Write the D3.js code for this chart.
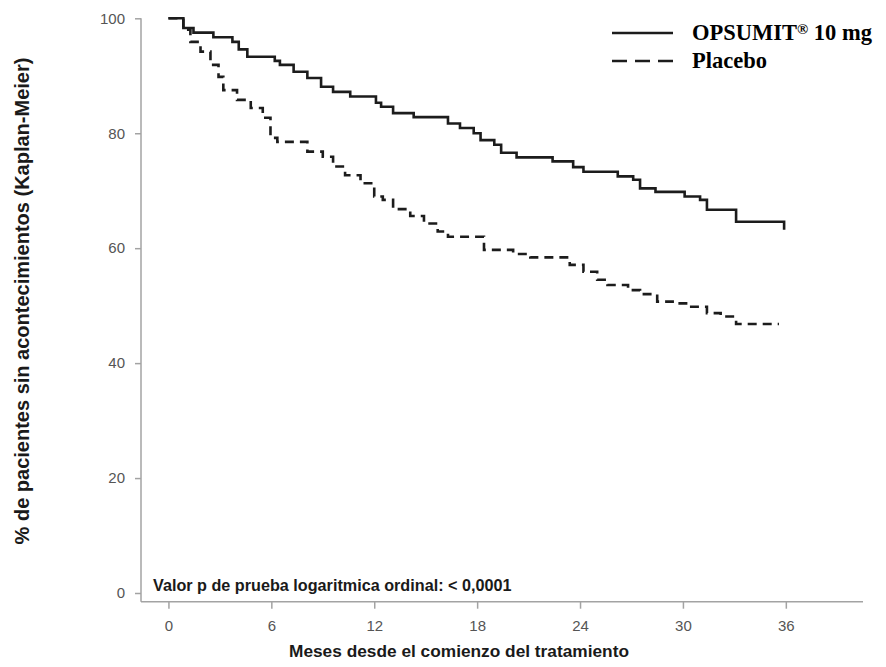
<!DOCTYPE html>
<html>
<head>
<meta charset="utf-8">
<script src="https://cdn.jsdelivr.net/npm/d3@7"></script>
<style>
  body { margin: 0; background: #fff; }
  .tick text { font-family: "Liberation Sans", Arial, sans-serif; fill: #555; }
</style>
</head>
<body>
<div id="chart"></div>
<script>
// Kaplan-Meier knots: [month, % event-free]
var opsumitTimes = [0, 0.87, 1.46, 2.62, 3.73, 4.1, 4.6, 6.2, 6.5, 7.3, 8.1, 8.9, 9.6, 10.6, 12.1, 12.4, 13.1, 14.3, 16.3, 17.0, 17.8, 18.2, 19.0, 19.4, 20.3, 22.4, 23.6, 24.2, 26.2, 27.1, 27.5, 28.4, 30.1, 31.0, 31.4, 33.1, 35.9, 35.9];
var opsumitValues = [100, 98.3, 97.5, 96.7, 95.9, 94.6, 93.3, 92.6, 91.9, 90.7, 89.6, 88.1, 87.2, 86.4, 85.3, 84.6, 83.5, 82.8, 81.7, 80.9, 80.0, 78.8, 78.0, 76.6, 75.8, 75.1, 74.1, 73.3, 72.5, 71.9, 70.4, 69.8, 69.0, 68.4, 66.7, 64.6, 64.6, 63.2];

var placeboTimes = [0, 0.87, 1.28, 1.87, 2.45, 2.92, 3.2, 4.0, 4.8, 5.5, 5.95, 6.35, 8.1, 9.0, 9.6, 10.3, 11.2, 12.0, 12.5, 13.1, 14.1, 14.9, 15.7, 16.3, 18.4, 20.1, 21.1, 23.4, 24.2, 25.0, 25.6, 26.8, 27.5, 28.5, 29.4, 30.4, 31.4, 32.2, 33.1, 35.6];
var placeboValues = [100, 98.0, 95.9, 94.2, 91.9, 89.8, 87.5, 85.8, 84.4, 82.7, 79.2, 78.5, 76.8, 75.9, 74.2, 72.7, 71.3, 69.0, 68.4, 66.8, 65.6, 64.3, 62.9, 62.0, 59.7, 59.0, 58.4, 57.1, 55.9, 54.5, 53.6, 52.7, 52.0, 50.7, 50.4, 49.8, 48.7, 48.1, 46.8, 46.8];

var xTicks = [0, 6, 12, 18, 24, 30, 36];
var yTicks = [0, 20, 40, 60, 80, 100];
var seriesNames = ["OPSUMIT", "Placebo"];

var width = 886, height = 667;
var plot = {left: 141, right: 863, top: 18.3, bottom: 593, axisY: 601.7};

var svg = d3.select("#chart").append("svg")
  .attr("width", width)
  .attr("height", height);

var x = d3.scaleLinear().domain([-1.6, 40.5]).range([plot.left, plot.right]);
var y = d3.scaleLinear().domain([0, 100]).range([plot.bottom, plot.top]);

var axisColor = "#a3a3a3";

// X axis
var xAxis = d3.axisBottom(x).tickValues(xTicks).tickSize(7).tickPadding(12).tickSizeOuter(0);
var gx = svg.append("g")
  .attr("transform", "translate(0," + plot.axisY + ")")
  .call(xAxis);
gx.select(".domain").remove();
gx.selectAll(".tick line").attr("stroke", axisColor).attr("stroke-width", 1.5);
gx.selectAll(".tick text").style("font-size", "15px");
gx.append("line")
  .attr("x1", x.range()[0]).attr("x2", x.range()[1])
  .attr("stroke", axisColor).attr("stroke-width", 1.5);

// Y axis
var yAxis = d3.axisLeft(y).tickValues(yTicks).tickSize(6).tickPadding(10).tickSizeOuter(0);
var gy = svg.append("g")
  .attr("transform", "translate(" + plot.left + ",0)")
  .call(yAxis);
gy.select(".domain").remove();
gy.selectAll(".tick line").attr("stroke", axisColor).attr("stroke-width", 1.5);
gy.selectAll(".tick text").style("font-size", "15px");
gy.append("line")
  .attr("y1", y.range()[1]).attr("y2", plot.axisY)
  .attr("stroke", axisColor).attr("stroke-width", 1.5);

// curves
var line = d3.line()
  .x(d => x(d[0]))
  .y(d => y(d[1]))
  .curve(d3.curveStepAfter);

var opsumit = d3.zip(opsumitTimes, opsumitValues);
var placebo = d3.zip(placeboTimes, placeboValues);

svg.append("path")
  .datum(placebo)
  .attr("d", line)
  .attr("fill", "none")
  .attr("stroke", "#1c1c1c")
  .attr("stroke-width", 2.6)
  .attr("stroke-dasharray", "9,6");

svg.append("path")
  .datum(opsumit)
  .attr("d", line)
  .attr("fill", "none")
  .attr("stroke", "#1c1c1c")
  .attr("stroke-width", 2.6);

// legend
var legend = svg.append("g").attr("transform", "translate(612,33)");
legend.append("line").attr("x1", 0).attr("x2", 61).attr("y1", 0).attr("y2", 0)
  .attr("stroke", "#1c1c1c").attr("stroke-width", 2.6);
legend.append("line").attr("x1", 0).attr("x2", 61).attr("y1", 28).attr("y2", 28)
  .attr("stroke", "#1c1c1c").attr("stroke-width", 2.6).attr("stroke-dasharray", "15,8");
var lt = legend.append("text")
  .attr("x", 80).attr("y", 7)
  .style("font-family", "'Liberation Serif', 'Times New Roman', serif")
  .style("font-weight", "bold").style("font-size", "22.5px");
lt.append("tspan").text(seriesNames[0]);
lt.append("tspan").attr("dy", -6).style("font-size", "15px").text("®");
lt.append("tspan").attr("dy", 6).text(" 10 mg");
legend.append("text")
  .attr("x", 80).attr("y", 35)
  .style("font-family", "'Liberation Serif', 'Times New Roman', serif")
  .style("font-weight", "bold").style("font-size", "22.5px")
  .text(seriesNames[1]);

// p-value note
svg.append("text")
  .attr("x", 153).attr("y", 590.5)
  .style("font-family", "'Liberation Sans', Arial, sans-serif")
  .style("font-weight", "bold").style("font-size", "16.2px")
  .attr("fill", "#1a1a1a")
  .text("Valor p de prueba logaritmica ordinal: < 0,0001");

// axis titles
svg.append("text")
  .attr("x", 459).attr("y", 657)
  .attr("text-anchor", "middle")
  .style("font-family", "'Liberation Sans', Arial, sans-serif")
  .style("font-weight", "bold").style("font-size", "17.3px")
  .attr("fill", "#1a1a1a")
  .text("Meses desde el comienzo del tratamiento");

svg.append("text")
  .attr("transform", "translate(29,301) rotate(-90)")
  .attr("text-anchor", "middle")
  .style("font-family", "'Liberation Sans', Arial, sans-serif")
  .style("font-weight", "bold").style("font-size", "20px")
  .attr("fill", "#1a1a1a")
  .text("% de pacientes sin acontecimientos (Kaplan-Meier)");
</script>
</body>
</html>
